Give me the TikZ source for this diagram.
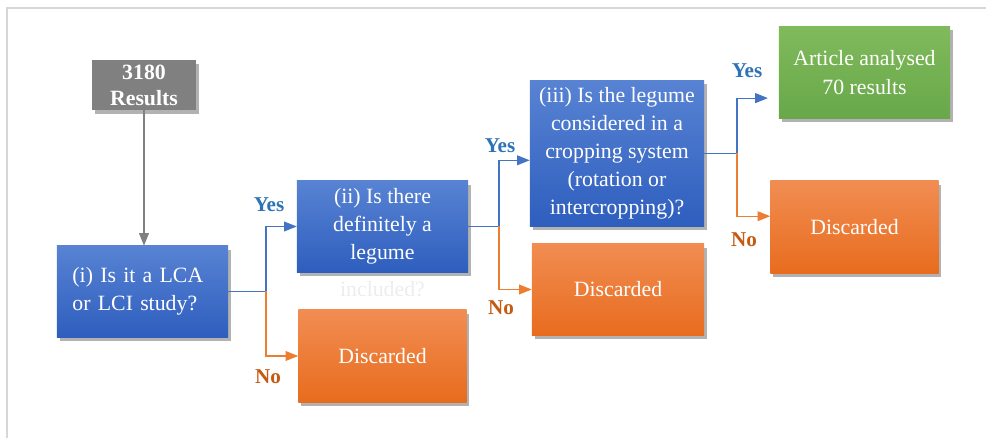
\documentclass[tikz,border=0pt]{standalone}
\usepackage{fontspec}
\setmainfont{Liberation Serif}
\usetikzlibrary{positioning,arrows.meta,shadows}

\definecolor{bluetop}{RGB}{88,131,211}
\definecolor{bluebot}{RGB}{46,94,190}
\definecolor{orangetop}{RGB}{241,141,82}
\definecolor{orangebot}{RGB}{232,108,30}
\definecolor{greentop}{RGB}{128,186,92}
\definecolor{greenbot}{RGB}{104,168,74}
\definecolor{boxgray}{RGB}{128,128,128}
\definecolor{yesblue}{RGB}{46,116,181}
\definecolor{nored}{RGB}{197,90,17}
\definecolor{lineblue}{RGB}{68,114,196}
\definecolor{lineorange}{RGB}{237,125,49}
\definecolor{framegray}{RGB}{215,215,215}

\tikzset{
  box/.style={rectangle, text=white, inner sep=2pt, align=center,
    font=\fontsize{15.5}{20}\selectfont,
    drop shadow={shadow xshift=2pt, shadow yshift=-2.5pt, fill=black, opacity=0.3}},
  question/.style={box, top color=bluetop, bottom color=bluebot},
  discard/.style={box, top color=orangetop, bottom color=orangebot,
    minimum width=4.2cm, minimum height=2.3cm},
  analysed/.style={box, top color=greentop, bottom color=greenbot},
  yes/.style={text=yesblue, font=\fontsize{15}{18}\selectfont\bfseries},
  no/.style={text=nored, font=\fontsize{15}{18}\selectfont\bfseries},
  yesline/.style={draw=lineblue, line width=0.8pt, -{Triangle[length=9pt,width=7pt]}},
  noline/.style={draw=lineorange, line width=0.8pt, -{Triangle[length=9pt,width=7pt]}}
}

\begin{document}
\begin{tikzpicture}[x=0.025cm, y=-0.025cm]
    \useasboundingbox (0,0) rectangle (986,438);
    \draw[framegray, line width=1pt] (986,8) -- (7,8) -- (7,438);% page frame
    % boxes
    \node[box, fill=boxgray, minimum width=2.6cm, minimum height=1.25cm,
        font=\fontsize{15.5}{18.5}\selectfont\bfseries] (res) at (144,85) {3180\\Results};
    \node[question, minimum width=4.275cm, minimum height=2.275cm, text width=3.5cm,
        align=left] (q1) at (142.5,291.5) {(i) Is it a LCA\\or LCI study?};
    \node[question, minimum width=4.275cm, minimum height=2.275cm] (q2) at (382.5,226.5)
        {\raisebox{-0.15cm}{\parbox{3.5cm}{\centering(ii) Is there\\definitely a\\legume}}};
    \node[text=black!7, font=\fontsize{15.5}{20}\selectfont] (inc) at (382.5,289) {included?};% hidden line
    \node[discard] (dis1) at (382.5,356) {Discarded};
    \node[question, minimum width=4.35cm, minimum height=3.625cm] (q3) at (617,153.5)
        {(iii) Is the legume\\considered in a\\cropping system\\(rotation or\\intercropping)?};
    \node[discard, minimum width=4.3cm, minimum height=2.275cm] (dis2) at (618,289.5) {Discarded};
    \node[analysed, minimum width=4.275cm, minimum height=2.275cm] (art) at (864.5,72.5)
        {Article analysed\\70 results};
    \node[discard] (dis3) at (854.5,227) {Discarded};
    % branch points
    \coordinate (br1) at (266,291.5);
    \coordinate (br2) at (499,226.5);
    \coordinate (br3) at (737,153.5);
    % connectors
    \draw[boxgray, line width=1pt, -{Triangle[length=9pt,width=7pt]}] (res) -- (res |- q1.north);
    \draw[lineblue, line width=0.8pt] (q1.east) -- (br1);
    \draw[yesline] (br1) |- (q2.west);
    \draw[noline] (br1) |- (dis1.west);
    \draw[lineblue, line width=0.8pt] (q2.east) -- (br2);
    \draw[yesline] (br2) |- ([yshift=-0.17cm]q3.west);
    \draw[noline] (br2) |- (dis2.west);
    \draw[lineblue, line width=0.8pt] (q3.east) -- (br3);
    \draw[yesline, shorten >=0.27cm] (br3) |- ([yshift=-0.64cm]art.west);
    \draw[noline] (br3) |- ([yshift=0.27cm]dis3.west);
    % labels
    \node[yes] (y1) at (269,205) {Yes};
    \node[no] (n1) at (268,377) {No};
    \node[yes] (y2) at (500,146) {Yes};
    \node[no] (n2) at (501,308) {No};
    \node[yes] (y3) at (747,71) {Yes};
    \node[no] (n3) at (744,240) {No};
\end{tikzpicture}
\end{document}
